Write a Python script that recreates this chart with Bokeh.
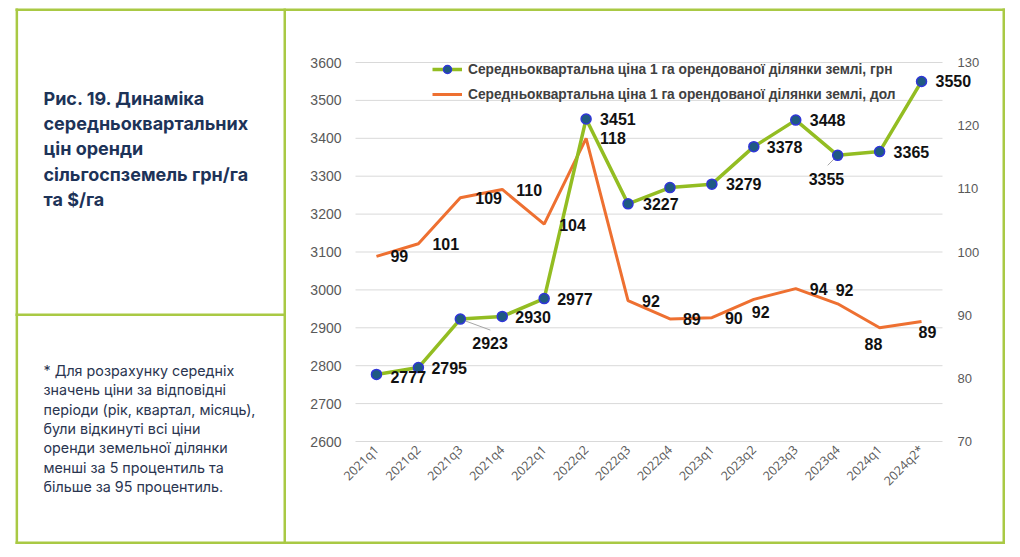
import math
from bokeh.plotting import figure
from bokeh.models import (ColumnDataSource, Range1d, LinearAxis, FixedTicker, LabelSet,
                          Legend, LegendItem)
from bokeh.core.properties import value
from bokeh.embed import file_html
from bokeh.resources import INLINE

# ---------------- data ----------------
quarters = ["2021q1", "2021q2", "2021q3", "2021q4", "2022q1", "2022q2", "2022q3",
            "2022q4", "2023q1", "2023q2", "2023q3", "2023q4", "2024q1", "2024q2*"]
uah = [2777, 2795, 2923, 2930, 2977, 3451, 3227, 3270, 3279, 3378, 3448, 3355, 3365, 3550]
usd = [99.3, 101.3, 108.6, 109.9, 104.4, 118.0, 92.3, 89.4, 89.6, 92.5, 94.2, 91.8, 88.0, 89.0]
uah_labels = ["2777", "2795", "2923", "2930", "2977", "3451", "3227", "",
              "3279", "3378", "3448", "3355", "3365", "3550"]
usd_labels = ["99", "101", "109", "110", "104", "118", "92", "89", "90", "92", "94", "92", "88", "89"]
uah_ticks = [2600, 2700, 2800, 2900, 3000, 3100, 3200, 3300, 3400, 3500, 3600]
usd_ticks = [70, 80, 90, 100, 110, 120, 130]
legend_uah = "Середньоквартальна ціна 1 га орендованої ділянки землі, грн"
legend_usd = "Середньоквартальна ціна 1 га орендованої ділянки землі, дол"
title_lines = ["Рис. 19. Динаміка", "середньоквартальних", "цін оренди",
               "сільгоспземель грн/га", "та $/га"]
note_lines = ["* Для розрахунку середніх", "значень ціни за відповідні",
              "періоди (рік, квартал, місяць),", "були відкинуті всі ціни",
              "оренди земельної ділянки", "менші за 5 процентиль та",
              "більше за 95 процентиль."]

# ---------------- layout / style ----------------
GREEN_LINE = "#93bd22"
BORDER = "#a9c944"
ORANGE = "#ee7031"
W, H = 1010, 548
PL, PR, PT, PB = 355, 942, 62, 441      # plot area in canvas px
N = len(quarters)
CAT_W = (PR - PL) / N
CAT0 = PL + CAT_W / 2

# label pixel offsets (right / down)
uah_dx = [14, 13, 12, 13, 13, 14, 15, 0, 14, 13, 14, -29, 14, 14]
uah_dy = [3, 0, 24, 1, 0, 0, 0, 0, 0, 0, 0, 24, 0, 0]
usd_dx = [14, 14, 15, 14, 15, 14, 14, 13, 13, -2, 14, -2, -15, -3]
usd_dy = [0, 0, 0, 1, 1, 0, 0, 0, 0, 13, 0, -14, 16, 11]


def yrange(lo, hi):
    per_px = (hi - lo) / (PB - PT)
    return Range1d(lo - (H - PB) * per_px, hi + PT * per_px)


idx = list(range(N))
p = figure(width=W, height=H,
           x_range=Range1d((0 - CAT0) / CAT_W, (W - CAT0) / CAT_W),
           y_range=yrange(uah_ticks[0], uah_ticks[-1]),
           x_axis_type=None, y_axis_type=None,
           output_backend="svg", toolbar_location=None,
           min_border=0, min_border_left=0, min_border_right=0,
           min_border_top=0, min_border_bottom=0)
p.extra_y_ranges = {"usd": yrange(usd_ticks[0], usd_ticks[-1]), "py": Range1d(H, 0)}
p.extra_x_ranges = {"px": Range1d(0, W)}
p.outline_line_color = None
p.background_fill_color = "white"
p.border_fill_color = "white"

# ---------------- axes ----------------
lax = LinearAxis(fixed_location=-0.5, ticker=FixedTicker(ticks=uah_ticks))
rax = LinearAxis(y_range_name="usd", fixed_location=N - 0.5, ticker=FixedTicker(ticks=usd_ticks))
bax = LinearAxis(fixed_location=uah_ticks[0], ticker=FixedTicker(ticks=idx),
                 major_label_overrides={i: q for i, q in enumerate(quarters)})
p.add_layout(lax, "left")
p.add_layout(rax, "right")
p.add_layout(bax, "below")
for ax in [lax, rax, bax]:
    ax.axis_line_color = None
    ax.major_tick_line_color = None
    ax.minor_tick_line_color = None
    ax.major_tick_out = 0
    ax.major_tick_in = 0
    ax.minor_tick_out = 0
    ax.minor_tick_in = 0
    ax.major_label_text_color = "#595959"
lax.major_label_text_font = "Liberation Sans"
lax.major_label_text_font_size = "14px"
lax.major_label_standoff = 14
rax.major_label_text_font = "Liberation Sans"
rax.major_label_text_font_size = "13px"
rax.major_label_standoff = 15
bax.major_label_orientation = math.pi / 4
bax.major_label_text_font = "Open Sans"
bax.major_label_text_font_size = "12.5px"
bax.major_label_standoff = 6

# gridlines (left axis ticks, limited to the plot area)
grid = ColumnDataSource(dict(y=uah_ticks, x0=[-0.5] * len(uah_ticks), x1=[N - 0.5] * len(uah_ticks)))
p.segment(x0="x0", x1="x1", y0="y", y1="y", source=grid, line_color="#d9d9d9", line_width=1)

# ---------------- series ----------------
src = ColumnDataSource(dict(i=idx, uah=uah, usd=usd, ul=uah_labels, dl=usd_labels,
                            udx=uah_dx, udy=[-d for d in uah_dy],
                            ddx=usd_dx, ddy=[-d for d in usd_dy]))

o_line = p.line("i", "usd", source=src, y_range_name="usd", line_color=ORANGE, line_width=3)
g_line = p.line("i", "uah", source=src, line_color=GREEN_LINE, line_width=3.5)

# leader lines for two labels
px_per_uah = (PB - PT) / (uah_ticks[-1] - uah_ticks[0])
lead = ColumnDataSource(dict(
    x0=[idx[2], idx[11]], y0=[uah[2], uah[11]],
    x1=[idx[2] + 30 / CAT_W, idx[11] - 10 / CAT_W],
    y1=[uah[2] - 11 / px_per_uah, uah[11] - 10 / px_per_uah]))
p.segment(x0="x0", y0="y0", x1="x1", y1="y1", source=lead, line_color="#a6a6a6", line_width=1)

g_pts = p.scatter("i", "uah", source=src, size=10, fill_color="#1f5a82",
                  line_color="#3036d8", line_width=1.5)

p.add_layout(LabelSet(x="i", y="uah", text="ul", source=src, x_offset="udx", y_offset="udy",
                      text_font=value("Liberation Sans"), text_font_style="bold",
                      text_font_size="16px", text_color="#111111",
                      text_align="left", text_baseline="middle"))
p.add_layout(LabelSet(x="i", y="usd", y_range_name="usd", text="dl", source=src,
                      x_offset="ddx", y_offset="ddy",
                      text_font=value("Liberation Sans"), text_font_style="bold",
                      text_font_size="16px", text_color="#111111",
                      text_align="left", text_baseline="middle"))

leg = Legend(items=[LegendItem(label=legend_uah, renderers=[g_line, g_pts]),
                    LegendItem(label=legend_usd, renderers=[o_line])],
             location=(432, H - 104), orientation="vertical", padding=0, margin=0,
             spacing=5, glyph_width=30, glyph_height=20, label_height=20, label_standoff=6,
             label_text_font="Liberation Sans", label_text_font_style="bold",
             label_text_font_size="13.75px", label_text_color="#404040",
             background_fill_alpha=0, border_line_color=None)
p.add_layout(leg)

# ---------------- panel borders (canvas px coordinates) ----------------
bw = 2.5
borders = dict(
    left=[15, 15, 15.1, 1002, 283, 15],
    right=[1004.5, 1004.5, 15.1 + bw, 1002 + bw, 283 + bw, 285.5],
    top=[8, 541, 8, 8, 8, 313],
    bottom=[8 + bw, 541 + bw, 543.5, 543.5, 543.5, 313 + bw])
p.quad(left="left", right="right", top="top", bottom="bottom",
       source=ColumnDataSource(borders), x_range_name="px", y_range_name="py",
       fill_color=BORDER, line_color=None)

# ---------------- left panel text ----------------
tsrc = ColumnDataSource(dict(x=[43] * len(title_lines),
                             y=[98 + 25.2 * i for i in range(len(title_lines))],
                             t=title_lines))
p.text(x="x", y="y", text="t", source=tsrc, x_range_name="px", y_range_name="py",
       text_font=value("Inter"), text_font_style="bold", text_font_size="18px",
       text_color="#1d3358", text_align="left", text_baseline="alphabetic")
nsrc = ColumnDataSource(dict(x=[43] * len(note_lines),
                             y=[370 + 19.3 * i for i in range(len(note_lines))],
                             t=note_lines))
p.text(x="x", y="y", text="t", source=nsrc, x_range_name="px", y_range_name="py",
       text_font=value("Inter"), text_font_size="14.3px",
       text_color="#2a3550", text_align="left", text_baseline="alphabetic")

open("out.html", "w").write(file_html(p, INLINE))
